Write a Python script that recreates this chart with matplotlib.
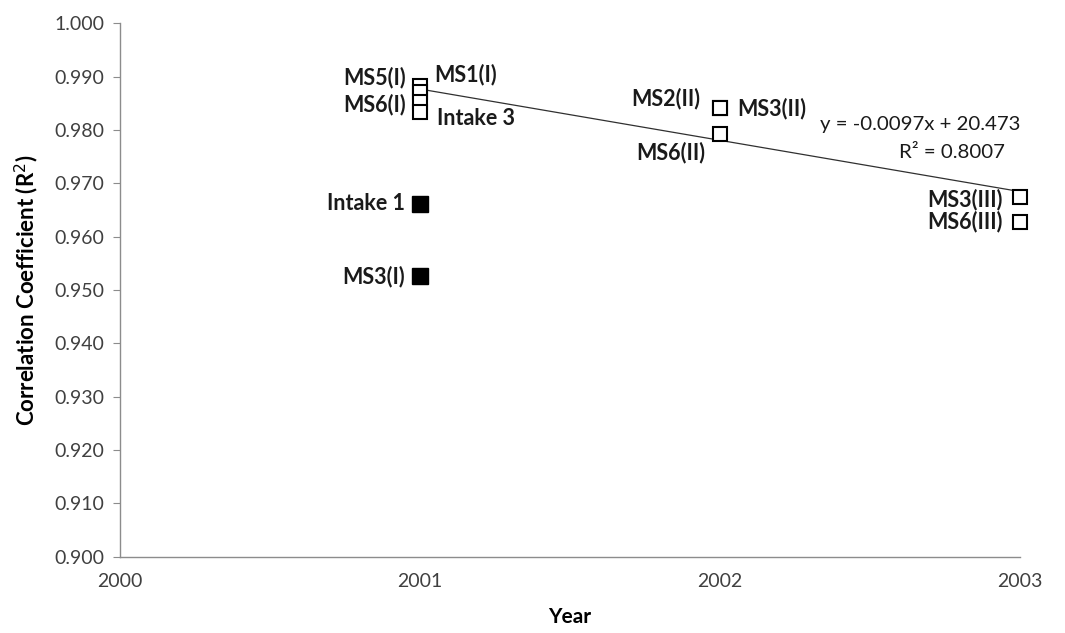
import numpy as np
import matplotlib
matplotlib.use("Agg")
import matplotlib.pyplot as plt

plt.rcParams['font.family'] = ['Lato', 'DejaVu Sans']

# Correlation coefficients per monitoring station and year
open_labels = ["MS1(I)", "MS5(I)", "MS6(I)", "Intake 3",
               "MS2(II)", "MS3(II)", "MS6(II)",
               "MS3(III)", "MS6(III)"]
open_years = [2001, 2001, 2001, 2001, 2002, 2002, 2002, 2003, 2003]
open_values = [0.9883, 0.9872, 0.9852, 0.9834,
               0.9841, 0.9841, 0.9792,
               0.9675, 0.9628]

filled_labels = ["Intake 1", "MS3(I)"]
filled_years = [2001, 2001]
filled_values = [0.9662, 0.9526]

equation_text = "y = -0.0097x + 20.473"
r2_text = "R² = 0.8007"

x_ticks = [2000, 2001, 2002, 2003]
y_ticks = np.round(np.arange(0.900, 1.0001, 0.010), 3)

# label offsets in pixels (dx, dy, ha)
open_offsets = [(14, 11, "left"), (-14, 14, "right"), (-14, -2, "right"),
                (17, -7, "left"), (-20, 10, "right"), (17, 0, "left"),
                (-15, -18, "right"), (-17, -3, "right"), (-17, 0, "right")]
filled_offsets = [(-15, 0, "right"), (-15, 0, "right")]

fig = plt.figure(figsize=(10.65, 6.33), dpi=100)
ax = fig.add_axes([120 / 1065, 1 - 556.7 / 633, 900 / 1065, (556.7 - 23.3) / 633])

ax.plot(open_years, open_values, linestyle="none", marker="s", markersize=10.5,
        markerfacecolor="white", markeredgecolor="black", markeredgewidth=1.5,
        zorder=3, clip_on=False)
ax.plot(filled_years, filled_values, linestyle="none", marker="s", markersize=11,
        markerfacecolor="black", markeredgecolor="black", markeredgewidth=1.0,
        zorder=3, clip_on=False)

# linear trend through the open-marker series
coef = np.polyfit(open_years, open_values, 1)
tx = np.array([min(open_years), max(open_years)])
ax.plot(tx, np.polyval(coef, tx), color="#303030", linewidth=0.9, zorder=2, clip_on=False)

label_size = 15.5
for lab, xv, yv, (dx, dy, ha) in zip(open_labels, open_years, open_values, open_offsets):
    ax.annotate(lab, (xv, yv), xytext=(dx, dy), textcoords="offset pixels",
                ha=ha, va="center", fontsize=label_size, fontweight="bold", color="#1a1a1a")
for lab, xv, yv, (dx, dy, ha) in zip(filled_labels, filled_years, filled_values, filled_offsets):
    ax.annotate(lab, (xv, yv), xytext=(dx, dy), textcoords="offset pixels",
                ha=ha, va="center", fontsize=label_size, fontweight="bold", color="#1a1a1a")

ax.text(2002.333, 0.9811, equation_text, ha="left", va="center", fontsize=14.7, color="#1a1a1a")
ax.text(2002.95, 0.9757, r2_text, ha="right", va="center", fontsize=14.7, color="#1a1a1a")

ax.set_xlim(2000, 2003)
ax.set_ylim(0.900, 1.000)
ax.set_xticks(x_ticks)
ax.set_xticklabels([str(v) for v in x_ticks])
ax.set_yticks(y_ticks)
ax.set_yticklabels([f"{v:.3f}" for v in y_ticks])

for side in ("top", "right"):
    ax.spines[side].set_visible(False)
for side in ("left", "bottom"):
    ax.spines[side].set_color("#8c8c8c")
    ax.spines[side].set_linewidth(1.0)

ax.tick_params(axis="y", direction="out", length=5, color="#8c8c8c",
               labelsize=14, labelcolor="#404040", pad=6)
ax.tick_params(axis="x", length=0, labelsize=14, labelcolor="#404040", pad=12)

ax.set_xlabel("Year", fontsize=15, fontweight="bold", labelpad=12)
ax.set_ylabel("Correlation Coefficient (R$^2$)", fontsize=16, fontweight="bold", labelpad=10)

fig.savefig("out.png", dpi=100)
